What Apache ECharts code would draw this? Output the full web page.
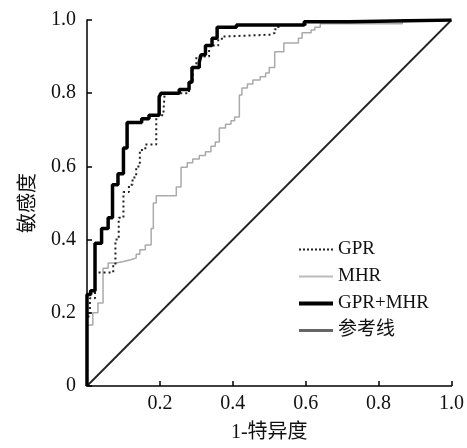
<!DOCTYPE html>
<html>
<head>
<meta charset="utf-8">
<script src="https://cdn.jsdelivr.net/npm/echarts@6/dist/echarts.min.js"></script>
<style>html,body{margin:0;padding:0;background:#fff;}#c{width:467px;height:448px;}</style>
</head>
<body>
<div id="c"></div>
<script>
const seriesNames = ['GPR', 'MHR', 'GPR+MHR', '参考线'];
const xTicks = [0, 0.2, 0.4, 0.6, 0.8, 1.0];
const yTicks = [0, 0.2, 0.4, 0.6, 0.8, 1.0];

const gprPoints = [[0,0],[0,0.19],[0.008,0.19],[0.008,0.24],[0.022,0.24],[0.022,0.31],[0.072,0.31],[0.072,0.33],[0.078,0.33],[0.078,0.40],[0.087,0.40],[0.087,0.46],[0.1,0.46],[0.1,0.53],[0.115,0.53],[0.115,0.55],[0.125,0.55],[0.125,0.57],[0.135,0.57],[0.135,0.6],[0.145,0.6],[0.145,0.645],[0.16,0.645],[0.16,0.66],[0.19,0.66],[0.19,0.74],[0.21,0.74],[0.21,0.755],[0.213,0.755],[0.213,0.80],[0.28,0.80],[0.28,0.83],[0.29,0.83],[0.29,0.87],[0.30,0.87],[0.30,0.90],[0.335,0.90],[0.335,0.93],[0.36,0.93],[0.36,0.945],[0.37,0.945],[0.37,0.955],[0.38,0.955],[0.38,0.96],[0.505,0.96],[0.505,0.965],[0.515,0.965],[0.515,0.975],[0.525,0.975],[0.525,0.986],[0.6,0.986],[0.6,0.995],[0.68,0.995],[0.68,1],[1,1]];

const mhrPoints = [[0,0],[0,0.167],[0.016,0.167],[0.016,0.2],[0.03,0.2],[0.03,0.227],[0.044,0.227],[0.044,0.322],[0.058,0.322],[0.058,0.336],[0.08,0.336],[0.08,0.34],[0.1,0.34],[0.1,0.345],[0.12,0.345],[0.12,0.35],[0.135,0.35],[0.135,0.36],[0.145,0.36],[0.145,0.372],[0.16,0.372],[0.16,0.385],[0.176,0.385],[0.176,0.43],[0.182,0.43],[0.182,0.5],[0.19,0.5],[0.19,0.52],[0.245,0.52],[0.245,0.544],[0.258,0.544],[0.258,0.598],[0.275,0.598],[0.275,0.61],[0.29,0.61],[0.29,0.62],[0.308,0.62],[0.308,0.63],[0.325,0.63],[0.325,0.64],[0.34,0.64],[0.34,0.655],[0.352,0.655],[0.352,0.667],[0.363,0.667],[0.363,0.705],[0.38,0.705],[0.38,0.715],[0.395,0.715],[0.395,0.725],[0.405,0.725],[0.405,0.735],[0.418,0.735],[0.418,0.795],[0.425,0.795],[0.425,0.814],[0.44,0.814],[0.44,0.825],[0.455,0.825],[0.455,0.836],[0.475,0.836],[0.475,0.845],[0.49,0.845],[0.49,0.855],[0.5,0.855],[0.5,0.87],[0.515,0.87],[0.515,0.913],[0.54,0.913],[0.54,0.937],[0.58,0.937],[0.58,0.95],[0.59,0.95],[0.59,0.965],[0.615,0.965],[0.615,0.973],[0.625,0.973],[0.625,0.98],[0.64,0.98],[0.64,0.99],[0.865,0.99],[0.865,1],[1,1]];

const comboPoints = [[0,0],[0,0.25],[0.01,0.25],[0.01,0.26],[0.022,0.26],[0.022,0.39],[0.04,0.39],[0.04,0.43],[0.058,0.43],[0.058,0.46],[0.07,0.46],[0.07,0.55],[0.085,0.55],[0.085,0.58],[0.1,0.58],[0.1,0.65],[0.11,0.65],[0.11,0.72],[0.15,0.72],[0.15,0.73],[0.17,0.73],[0.17,0.74],[0.198,0.74],[0.198,0.79],[0.203,0.79],[0.203,0.80],[0.253,0.80],[0.253,0.81],[0.28,0.81],[0.28,0.83],[0.288,0.83],[0.288,0.87],[0.308,0.87],[0.308,0.885],[0.313,0.885],[0.313,0.905],[0.325,0.905],[0.325,0.93],[0.343,0.93],[0.343,0.95],[0.357,0.95],[0.357,0.98],[0.41,0.98],[0.41,0.986],[0.596,0.986],[0.596,0.995],[0.72,0.995],[0.72,1],[1,1]];

const refPoints = [[0,0],[1,1]];

const serif = '"Liberation Serif", "Noto Sans CJK SC", serif';
const chart = echarts.init(document.getElementById('c'));
chart.setOption({
  animation: false,
  backgroundColor: '#fff',
  grid: { left: 87, right: 15, top: 20, bottom: 62, containLabel: false },
  legend: {
    orient: 'vertical', left: 292, top: 235,
    data: [
      { name: seriesNames[0], lineStyle: { color: '#222', width: 2, type: [2, 2] } },
      { name: seriesNames[1], lineStyle: { color: '#bbb', width: 2 } },
      { name: seriesNames[2], lineStyle: { color: '#000', width: 4 } },
      { name: seriesNames[3], lineStyle: { color: '#666', width: 3 } }
    ],
    itemWidth: 34, itemHeight: 14, itemGap: 8,
    itemStyle: { opacity: 0 },
    textStyle: { fontFamily: serif, fontSize: 19, color: '#111' }
  },
  xAxis: {
    type: 'value', min: 0, max: 1, interval: 0.2,
    name: '1-特异度', nameLocation: 'middle', nameGap: 37,
    nameTextStyle: { fontFamily: serif, fontSize: 20, color: '#111' },
    axisLine: { show: true, lineStyle: { color: '#000', width: 1.5 } },
    axisTick: { show: true, inside: true, length: 5, lineStyle: { color: '#000', width: 1.5 } },
    axisLabel: { margin: 8, fontFamily: serif, fontSize: 20, color: '#111',
      formatter: v => v === 0 ? '' : v.toFixed(1) },
    splitLine: { show: false }
  },
  yAxis: {
    type: 'value', min: 0, max: 1, interval: 0.2,
    name: '敏感度', nameLocation: 'middle', nameGap: 48, nameRotate: 90,
    nameTextStyle: { fontFamily: serif, fontSize: 20, color: '#111' },
    axisLine: { show: true, lineStyle: { color: '#000', width: 1.5 } },
    axisTick: { show: true, inside: true, length: 5, lineStyle: { color: '#000', width: 1.5 } },
    axisLabel: { margin: 11, fontFamily: serif, fontSize: 20, color: '#111',
      formatter: v => v === 0 ? '0' : v.toFixed(1) },
    splitLine: { show: false }
  },
  series: [
    { name: seriesNames[0], type: 'line', data: gprPoints, symbol: 'none', z: 3,
      lineStyle: { color: '#222', width: 2, type: [2, 3] }, itemStyle: { color: '#222' } },
    { name: seriesNames[1], type: 'line', data: mhrPoints, symbol: 'none', z: 2,
      lineStyle: { color: '#aaa', width: 1.5 }, itemStyle: { color: '#aaa' } },
    { name: seriesNames[2], type: 'line', data: comboPoints, symbol: 'none', z: 4,
      lineStyle: { color: '#000', width: 3.5 }, itemStyle: { color: '#000' } },
    { name: seriesNames[3], type: 'line', data: refPoints, symbol: 'none', z: 1,
      lineStyle: { color: '#222', width: 1.8 }, itemStyle: { color: '#555' } }
  ]
});
</script>
</body>
</html>
